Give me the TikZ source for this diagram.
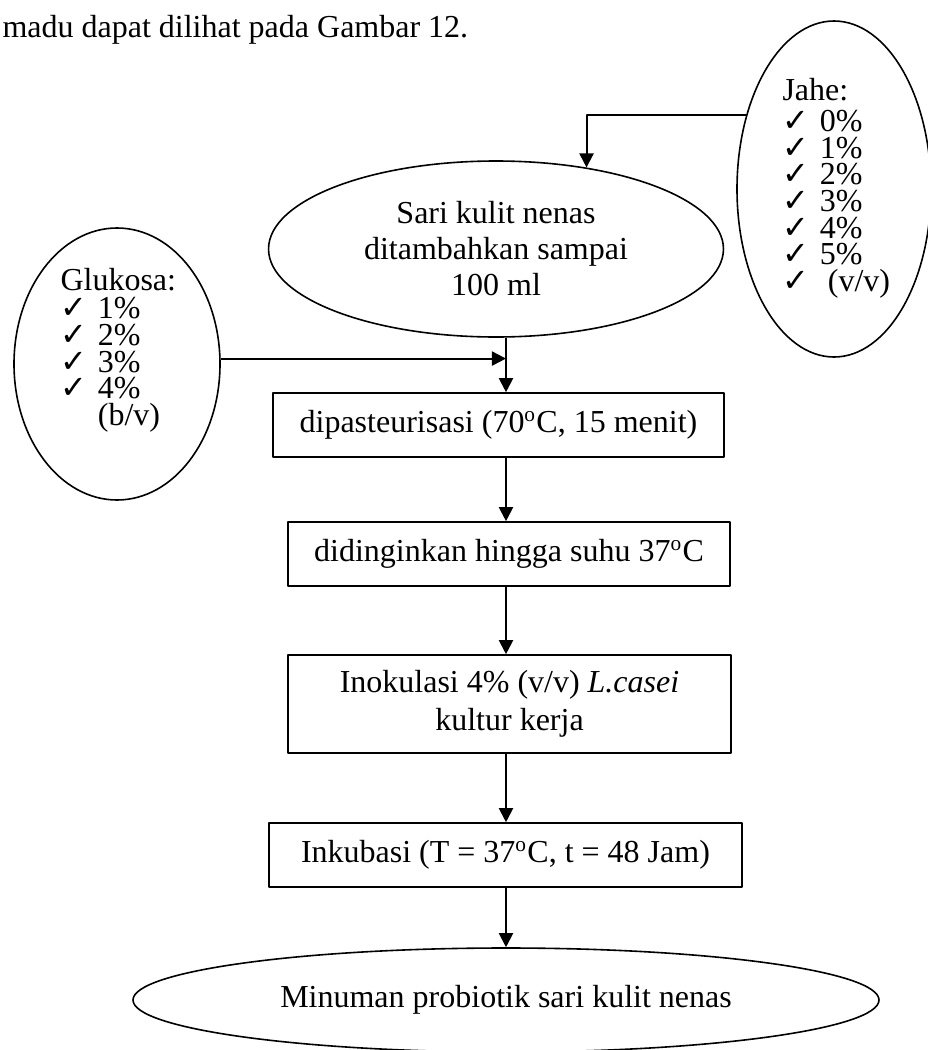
\documentclass[tikz,border=0pt]{standalone}
\usepackage{fontspec}
\setmainfont{Liberation Serif}
\newfontfamily\chkfont{DejaVu Sans}
\usetikzlibrary{arrows.meta,shapes.geometric}
\newcommand{\chk}{{\chkfont\bfseries\char"2713}}
\newcommand{\citem}[1]{\makebox[14pt][l]{\chk}#1}

\begin{document}
\begin{tikzpicture}[x=0.375pt,y=-0.375pt,>={Triangle[width=5.3pt,length=5.3pt]},line join=round,
    flowbox/.style={draw,line width=0.6pt,inner sep=0pt,align=center,font=\fontsize{12}{14.25}\selectfont},
    flowell/.style={draw,ellipse,line width=0.6pt,inner sep=0pt,align=center,font=\fontsize{12}{13.5}\selectfont},
    listtxt/.style={inner sep=0pt,align=left,anchor=north west,font=\fontsize{12}{10}\selectfont},
    conn/.style={->,line width=0.75pt}]
    \useasboundingbox (0,0) rectangle (928,1050);
    \node[anchor=base west,inner sep=0pt,font=\fontsize{12}{14}\selectfont] (intro) at (2,37) {madu dapat dilihat pada Gambar 12.};
    \node[flowell,minimum width=170.6pt,minimum height=66pt] (sari) at (496,249) {Sari kulit nenas\\ditambahkan sampai\\100 ml};
    \node[flowell,minimum width=72.75pt,minimum height=126pt] (jahe) at (834,189) {};
    \node[listtxt] (jahelist) at (782,78) {Jahe:\\[1.5pt]\citem{0\%}\\\citem{1\%}\\\citem{2\%}\\\citem{3\%}\\\citem{4\%}\\\citem{5\%}\\\citem{\hspace{3pt}(v/v)}};
    \node[flowell,minimum width=77.25pt,minimum height=102pt] (gluk) at (117,364) {};
    \node[listtxt] (gluklist) at (60,268) {Glukosa:\\[0.5pt]\citem{1\%}\\\citem{2\%}\\\citem{3\%}\\\citem{4\%}\\\hspace*{14pt}(b/v)};
    \node[flowbox,minimum width=169.1pt,minimum height=24pt] (past) at (498.5,425) {dipasteurisasi (70\textsuperscript{o}C, 15 menit)};
    \node[flowbox,minimum width=165.75pt,minimum height=24pt] (cool) at (509,554) {didinginkan hingga suhu 37\textsuperscript{o}C};
    \node[flowbox,minimum width=166.1pt,minimum height=36.75pt] (inok) at (509.5,704) {Inokulasi 4\% (v/v) \textit{L.casei}\\kultur kerja};
    \node[flowbox,minimum width=177.4pt,minimum height=24pt] (inku) at (505.5,855) {Inkubasi (T = 37\textsuperscript{o}C, t = 48 Jam)};
    \node[flowell,minimum width=279.75pt,minimum height=39pt] (hasil) at (506,1000) {Minuman probiotik sari kulit nenas};
    \coordinate (jn) at (506,358);
    \draw[conn] (jahe.140) -| (sari.42);
    \draw[line width=0.75pt] (sari.south -| jn) -- (jn);
    \draw[conn] (gluk.3) -- (gluk.3 -| jn);
    \draw[conn] (jn) -- (past.north -| jn);
    \draw[conn] (past.south -| jn) -- (cool.north -| jn);
    \draw[conn] (cool.south -| jn) -- (inok.north -| jn);
    \draw[conn] (inok.south -| jn) -- (inku.north -| jn);
    \draw[conn] (inku.south -| jn) -- (hasil.north -| jn);
\end{tikzpicture}
\end{document}
